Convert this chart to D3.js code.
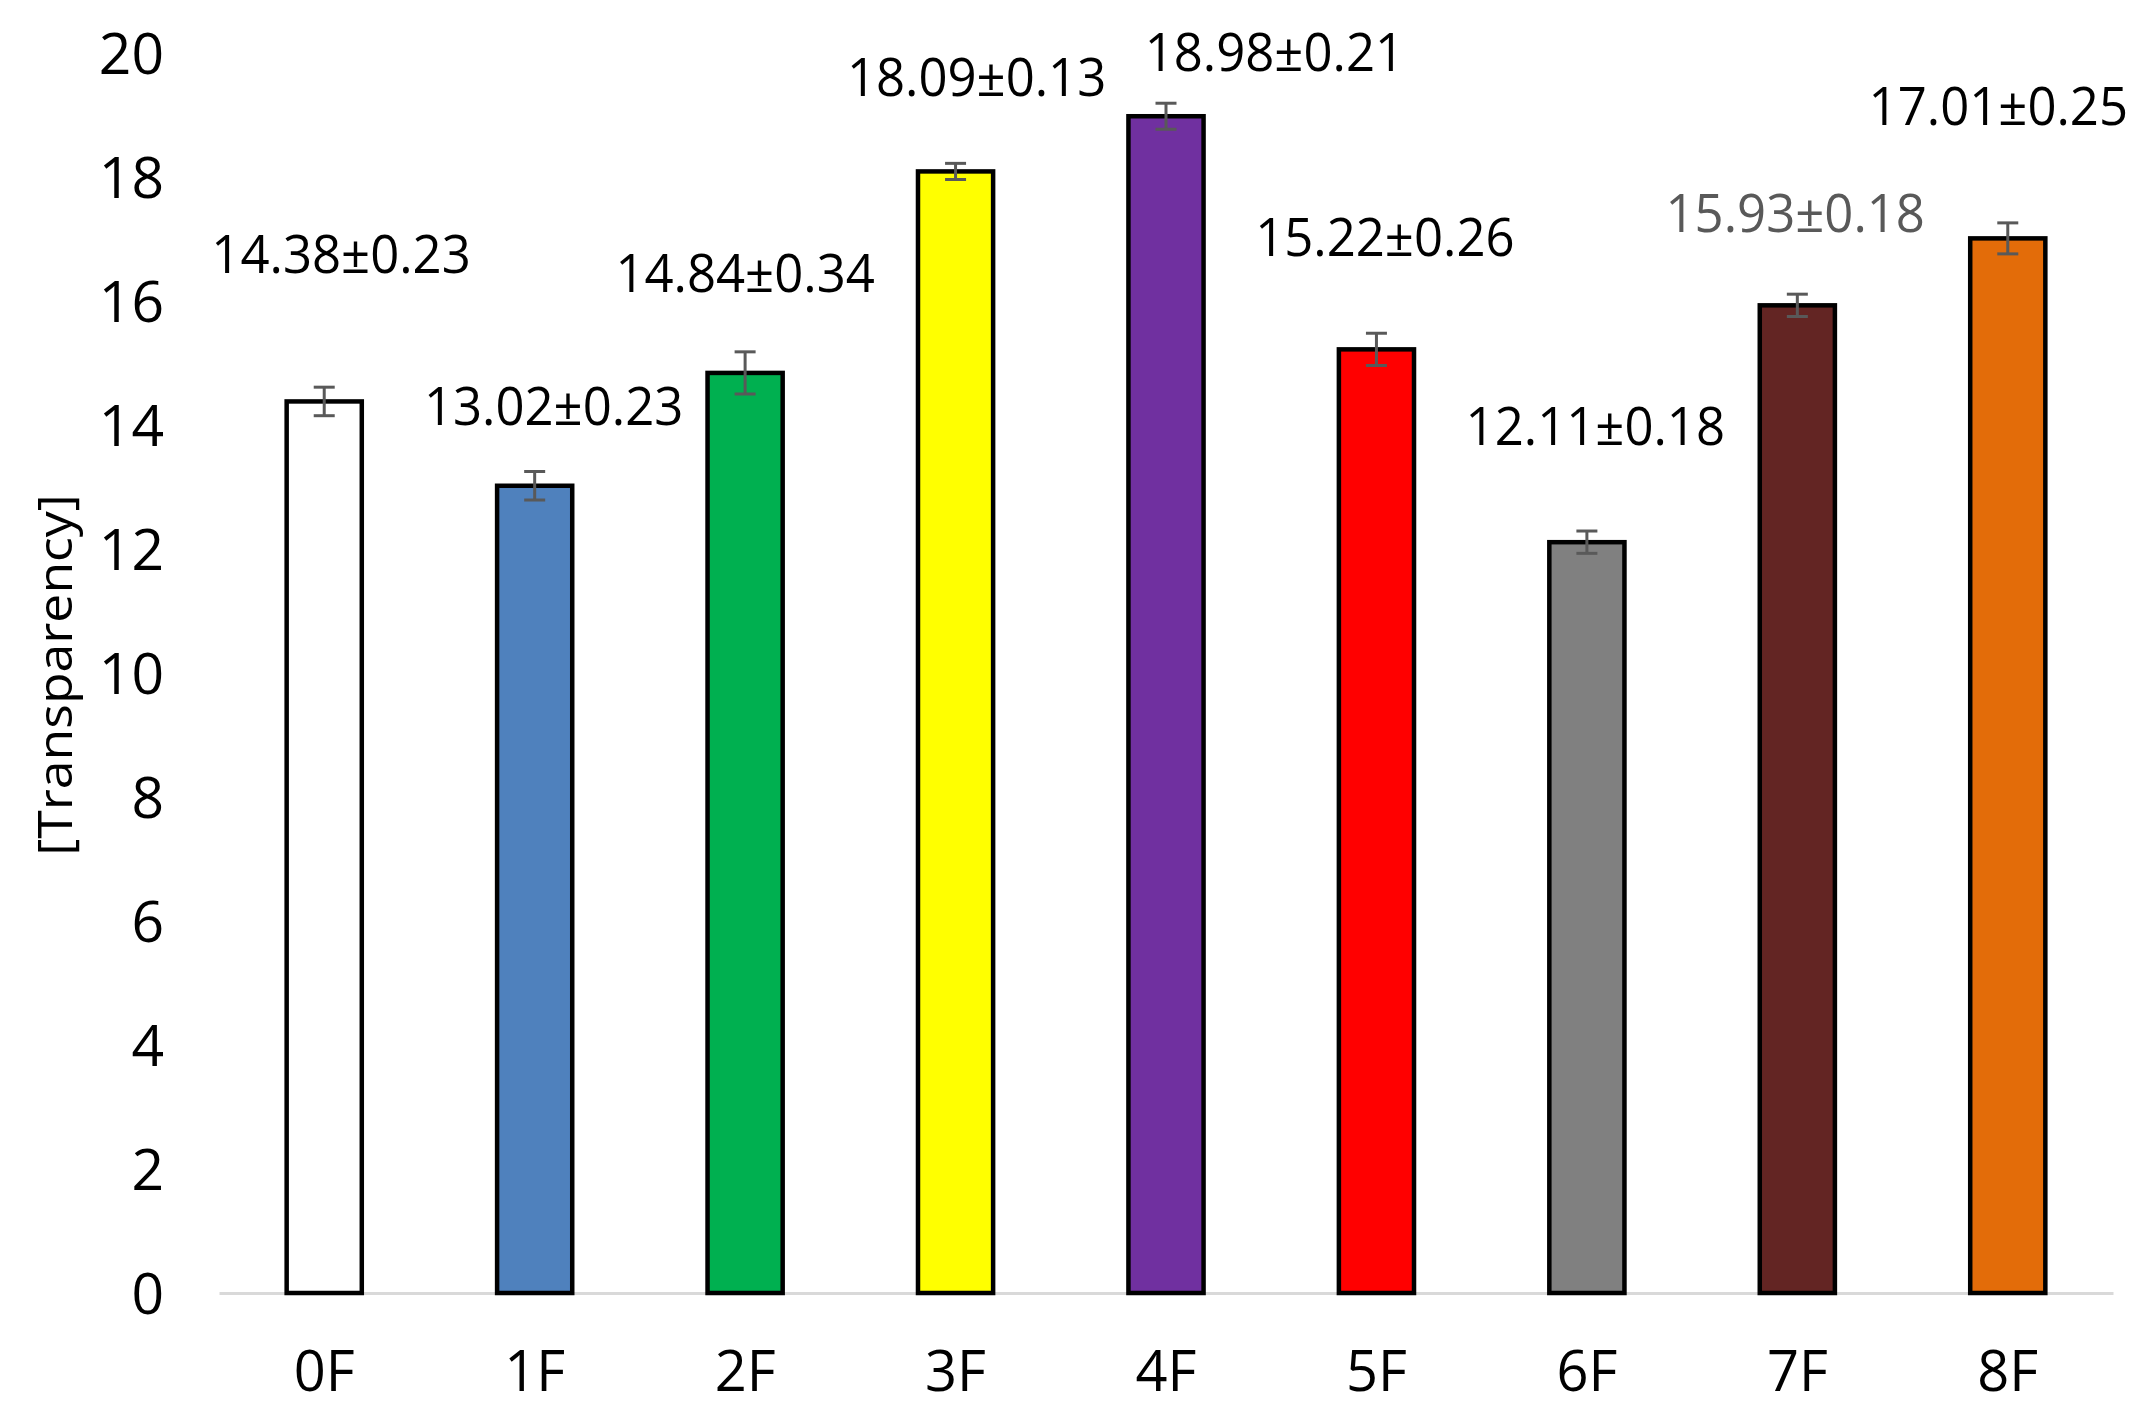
<!DOCTYPE html>
<html>
<head>
<meta charset="utf-8">
<script src="https://cdn.jsdelivr.net/npm/d3@7"></script>
<style>
  html, body { margin: 0; padding: 0; background: #fff; }
  svg { display: block; font-family: "Open Sans", "Noto Sans", sans-serif; }
</style>
</head>
<body>
<svg id="chart" width="2150" height="1424"></svg>
<script>
// ---- data ----
const categories = ["0F", "1F", "2F", "3F", "4F", "5F", "6F", "7F", "8F"];
const values     = [14.38, 13.02, 14.84, 18.09, 18.98, 15.22, 12.11, 15.93, 17.01];
const errors     = [0.23, 0.23, 0.34, 0.13, 0.21, 0.26, 0.18, 0.18, 0.25];
const barColors  = ["#FFFFFF", "#4F81BD", "#00B050", "#FFFF00", "#7030A0", "#FF0000", "#808080", "#632523", "#E36C09"];
const yTicks     = [0, 2, 4, 6, 8, 10, 12, 14, 16, 18, 20];
const yTitle     = "[Transparency]";
// manually placed data labels (annotation anchor: band offset, value-axis level)
const labelBandOffset = [0.08, 0.09, 0.0, 0.10, 0.515, 0.04, 0.04, -0.01, -0.045];
const labelLevel      = [16.76, 14.31, 16.45, 19.61, 20.02, 17.03, 13.98, 17.42, 19.15];
const labelColors     = ["#000", "#000", "#000", "#000", "#000", "#000", "#000", "#595959", "#000"];

// ---- layout ----
const svg = d3.select("#chart");
const plot = { left: 219, right: 2113, top: 53, bottom: 1293 };

const x = d3.scaleBand()
  .domain(categories)
  .range([plot.left, plot.right])
  .paddingInner(0.643)
  .paddingOuter(0.3215);

const y = d3.scaleLinear().domain([0, 20]).range([plot.bottom, plot.top]);

// y tick labels (no axis line, no gridlines)
const yAxis = d3.axisLeft(y).tickValues(yTicks).tickSize(0).tickPadding(0);
const gy = svg.append("g").attr("transform", `translate(${164},0)`).call(yAxis);
gy.select(".domain").remove();
gy.selectAll("text")
  .attr("font-size", 57)
  .attr("fill", "#000")
  .attr("dy", "0.36em")
  .style("font-family", '"Open Sans", sans-serif');

// x axis baseline
const xAxis = d3.axisBottom(x).tickSize(0).tickPadding(0);
const gx = svg.append("g").attr("transform", `translate(0,${plot.bottom})`).call(xAxis);
gx.select(".domain").attr("stroke", "#D9D9D9").attr("stroke-width", 3);
gx.selectAll("text")
  .attr("font-size", 56)
  .attr("fill", "#000")
  .attr("y", 98)
  .attr("dy", 0)
  .style("font-family", '"Open Sans", sans-serif');

// bars
const data = categories.map((c, i) => ({ c, v: values[i], e: errors[i], col: barColors[i], i }));
svg.append("g").selectAll("rect").data(data).join("rect")
  .attr("x", d => x(d.c))
  .attr("width", x.bandwidth())
  .attr("y", d => y(d.v))
  .attr("height", d => y(0) - y(d.v))
  .attr("fill", d => d.col)
  .attr("stroke", "#000")
  .attr("stroke-width", 4.5);

// error bars
const capW = 21;
const eg = svg.append("g").attr("stroke", "#595959").attr("stroke-width", 3).attr("fill", "none");
data.forEach(d => {
  const cx = x(d.c) + x.bandwidth() / 2;
  eg.append("line").attr("x1", cx).attr("x2", cx).attr("y1", y(d.v + d.e)).attr("y2", y(d.v - d.e));
  eg.append("line").attr("x1", cx - capW / 2).attr("x2", cx + capW / 2).attr("y1", y(d.v + d.e)).attr("y2", y(d.v + d.e));
  eg.append("line").attr("x1", cx - capW / 2).attr("x2", cx + capW / 2).attr("y1", y(d.v - d.e)).attr("y2", y(d.v - d.e));
});

// data labels
const lg = svg.append("g");
data.forEach(d => {
  const cx = x(d.c) + x.bandwidth() / 2 + labelBandOffset[d.i] * x.step();
  const cy = y(labelLevel[d.i]);
  lg.append("text")
    .attr("transform", `translate(${cx},${cy}) scale(0.96,1)`)
    .attr("text-anchor", "middle")
    .attr("dy", "0.36em")
    .attr("font-size", 53)
    .attr("fill", labelColors[d.i])
    .text(`${d.v.toFixed(2)}±${d.e.toFixed(2)}`);
});

// y axis title
svg.append("text")
  .attr("transform", `translate(${55},${675}) rotate(-90) scale(1.1,1)`)
  .attr("text-anchor", "middle")
  .attr("dy", "0.36em")
  .attr("font-size", 47)
  .attr("fill", "#000")
  .text(yTitle);
</script>
</body>
</html>
